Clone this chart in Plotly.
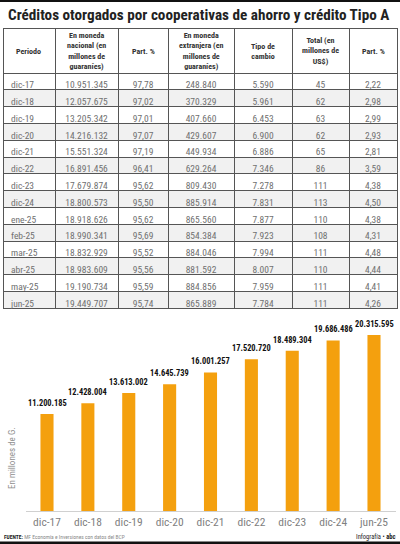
import plotly.graph_objects as go

W, H = 400, 544

# ---------------- data ----------------
periodos = ["dic-17", "dic-18", "dic-19", "dic-20", "dic-21", "dic-22", "dic-23",
            "dic-24", "ene-25", "feb-25", "mar-25", "abr-25", "may-25", "jun-25"]
moneda_nacional = ["10.951.345", "12.057.675", "13.205.342", "14.216.132", "15.551.324",
                   "16.891.456", "17.679.874", "18.800.573", "18.918.626", "18.990.341",
                   "18.832.929", "18.983.609", "19.190.734", "19.449.707"]
part_nacional = ["97,78", "97,02", "97,01", "97,07", "97,19", "96,41", "95,62",
                 "95,50", "95,62", "95,69", "95,52", "95,56", "95,59", "95,74"]
moneda_extranjera = ["248.840", "370.329", "407.660", "429.607", "449.934", "629.264",
                     "809.430", "885.914", "865.560", "854.384", "884.046", "881.592",
                     "884.856", "865.889"]
tipo_cambio = ["5.590", "5.961", "6.453", "6.900", "6.886", "7.346", "7.278",
               "7.831", "7.877", "7.923", "7.994", "8.007", "7.959", "7.784"]
total_usd = ["45", "62", "63", "62", "65", "86", "111", "113", "110", "108",
             "111", "110", "111", "111"]
part_extranjera = ["2,22", "2,98", "2,99", "2,93", "2,81", "3,59", "4,38",
                   "4,50", "4,38", "4,31", "4,48", "4,44", "4,41", "4,26"]

header_labels = [
    "Periodo",
    "En moneda<br>nacional (en<br>millones de<br>guaraníes)",
    "Part. %",
    "En moneda<br>extranjera (en<br>millones de<br>guaraníes)",
    "Tipo de<br>cambio",
    "Total (en<br>millones de<br>US$)",
    "Part. %",
]

bar_periodos = ["dic-17", "dic-18", "dic-19", "dic-20", "dic-21", "dic-22",
                "dic-23", "dic-24", "jun-25"]
bar_valores = [11200185, 12428004, 13613002, 14645739, 16001257, 17520720,
               18489304, 19686486, 20315595]

# ---------------- style ----------------
NARROW = "Liberation Sans Narrow, Roboto Condensed, Arial Narrow, Roboto, sans-serif"
ORANGE = "#F4A00E"

def fmt(v):
    return f"{v:,}".replace(",", ".")

def py(px):
    return 1 - px / H

def pxx(px):
    return px / W

# column geometry (pixels)
col_edges = [3, 55, 118, 168, 234, 292, 349, 397]
col_widths = [col_edges[i + 1] - col_edges[i] for i in range(len(col_edges) - 1)]
table_top, header_h, row_h = 28, 45, 16.8
n_rows = len(periodos)

row_fill = ["#ffffff" if i % 2 == 0 else "#f1f1f1" for i in range(n_rows)]

fig = go.Figure()

fig.add_trace(go.Table(
    domain=dict(x=[pxx(col_edges[0]), pxx(col_edges[-1])],
                y=[py(table_top + header_h + row_h * n_rows + 2), py(table_top)]),
    columnwidth=col_widths,
    header=dict(values=[""] * 7, height=header_h,
                fill_color="#ffffff",
                line=dict(color="#555555", width=1)),
    cells=dict(values=[periodos, moneda_nacional, part_nacional, moneda_extranjera,
                       tipo_cambio, total_usd, part_extranjera],
               height=row_h,
               align=["left"] + ["center"] * 6,
               fill_color=[row_fill] * 7,
               line=dict(color="#555555", width=1),
               font=dict(family=NARROW, size=9.5, color="#707070")),
))

# header labels
for ci, label in enumerate(header_labels):
    cx = (col_edges[ci] + col_edges[ci + 1]) / 2
    fig.add_annotation(x=pxx(cx), y=py(table_top + header_h / 2 + 0.5), xref="paper", yref="paper",
                       text=label, showarrow=False, xanchor="center", yanchor="middle",
                       font=dict(family=NARROW, size=8, color="#333333", weight="bold"))

# bar chart
bar_top_px, base_px = 320, 511
fig.add_trace(go.Bar(
    x=bar_periodos, y=bar_valores,
    marker=dict(color=ORANGE, line=dict(width=0)),
    width=0.32,
    xaxis="x", yaxis="y",
))

# value labels above bars (data coordinates)
for cat, val in zip(bar_periodos, bar_valores):
    fig.add_annotation(x=cat, y=val, xref="x", yref="y", text=f"<b>{fmt(val)}</b>",
                       showarrow=False, xanchor="center", yanchor="bottom", yshift=4,
                       font=dict(family=NARROW, size=8.4, color="#111111"))

fig.update_layout(
    width=W, height=H,
    margin=dict(l=0, r=0, t=0, b=0),
    paper_bgcolor="#ffffff", plot_bgcolor="#ffffff",
    showlegend=False,
    xaxis=dict(domain=[pxx(25.5), pxx(395.5)], anchor="y",
               showline=True, linecolor="#d0d0d0", linewidth=1,
               ticks="", showgrid=False, zeroline=False,
               tickfont=dict(family=NARROW, size=11.5, color="#808080")),
    yaxis=dict(domain=[py(base_px), py(bar_top_px)], anchor="x",
               range=[0, 22050000], visible=False, showgrid=False, zeroline=False),
)

# title
fig.add_annotation(x=pxx(6), y=py(15), xref="paper", yref="paper",
                   text="<b>Créditos otorgados por cooperativas de ahorro y crédito Tipo A</b>",
                   showarrow=False, xanchor="left", yanchor="middle",
                   font=dict(family=NARROW, size=15.2, color="#222222"))

# y-axis caption
fig.add_annotation(x=pxx(12), y=py(458), xref="paper", yref="paper",
                   text="En millones de G.", textangle=-90, showarrow=False,
                   xanchor="center", yanchor="middle",
                   font=dict(family=NARROW, size=9, color="#909090"))

# footer
fig.add_annotation(x=pxx(2), y=py(536.5), xref="paper", yref="paper",
                   text="<b><span style='color:#222'>FUENTE:</span></b> MF Economía e Inversiones con datos del BCP",
                   showarrow=False, xanchor="left", yanchor="middle",
                   font=dict(family=NARROW, size=5.5, color="#8a8a8a"))
fig.add_annotation(x=pxx(397), y=py(536.5), xref="paper", yref="paper",
                   text="Infografía • <b>abc</b>",
                   showarrow=False, xanchor="right", yanchor="middle",
                   font=dict(family=NARROW, size=6.5, color="#222222"))

# top and bottom black rules
fig.add_shape(type="rect", xref="paper", yref="paper", x0=0, x1=1, y0=py(2), y1=1,
              fillcolor="#111111", line=dict(width=0))
fig.add_shape(type="rect", xref="paper", yref="paper", x0=0, x1=1, y0=0, y1=py(541.5),
              fillcolor="#111111", line=dict(width=0))

fig.write_html("out.html",
               config={"displayModeBar": False},
               post_script="document.body.style.margin='0';document.body.style.padding='0';")
